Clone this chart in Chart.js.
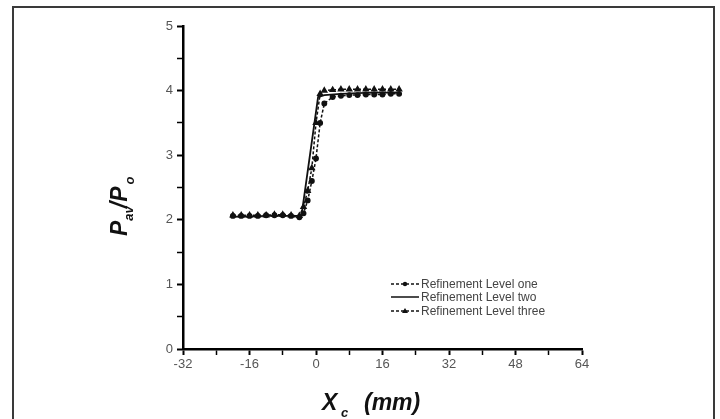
<!DOCTYPE html>
<html>
<head>
<meta charset="utf-8">
<script src="https://cdn.jsdelivr.net/npm/chart.js@4"></script>
<style>
    html, body { margin: 0; padding: 0; background: #fff; }
    #wrap { position: relative; width: 720px; height: 419px; }
    #frame {
        position: absolute; left: 12px; top: 6px; width: 703px; height: 420px;
        border: 2px solid #3a3a3a; box-sizing: border-box; pointer-events: none;
    }
</style>
</head>
<body>
<div id="wrap">
    <canvas id="chart" width="720" height="419"></canvas>
    <div id="frame"></div>
</div>
<script>
// Pressure ratio vs. position for three refinement levels

const xLevelOne = [-20, -18, -16, -14, -12, -10, -8, -6, -4, -3, -2, -1, 0, 1, 2, 4, 6, 8, 10, 12, 14, 16, 18, 20];
const yLevelOne = [2.06, 2.06, 2.06, 2.06, 2.07, 2.07, 2.07, 2.06, 2.04, 2.1, 2.3, 2.6, 2.95, 3.5, 3.8, 3.9, 3.92, 3.93, 3.93, 3.94, 3.94, 3.94, 3.95, 3.95];

const xLevelTwo = [-20, -16, -12, -8, -4, -3.5, 0.5, 2, 6, 10, 14, 20];
const yLevelTwo = [2.05, 2.05, 2.06, 2.06, 2.06, 2.06, 3.9, 3.93, 3.95, 3.96, 3.97, 3.97];

const xLevelThree = [-20, -18, -16, -14, -12, -10, -8, -6, -4, -3, -2, -1, 0, 1, 2, 4, 6, 8, 10, 12, 14, 16, 18, 20];
const yLevelThree = [2.07, 2.07, 2.07, 2.07, 2.07, 2.08, 2.08, 2.07, 2.06, 2.2, 2.45, 2.8, 3.5, 3.95, 4.0, 4.01, 4.02, 4.02, 4.02, 4.02, 4.02, 4.02, 4.02, 4.02];

const xTickValues = [-32, -16, 0, 16, 32, 48, 64];
const yTickValues = [0, 1, 2, 3, 4, 5];

const seriesNames = ['Refinement Level one', 'Refinement Level two', 'Refinement Level three'];

function toPoints(xs, ys) {
    return xs.map((x, i) => ({ x: x, y: ys[i] }));
}

const tickFont = { family: 'Liberation Sans, Arial, sans-serif', size: 13 };

// titles with subscripts and legend drawn by hand
const annotations = {
    id: 'annotations',
    afterDraw(chart) {
        const ctx = chart.ctx;
        const big = 'italic bold 23px Liberation Sans, Arial, sans-serif';
        const small = 'italic bold 13px Liberation Sans, Arial, sans-serif';

        // y title: P_av / P_o
        ctx.save();
        ctx.fillStyle = '#111';
        ctx.translate(127, 236);
        ctx.rotate(-Math.PI / 2);
        ctx.textBaseline = 'alphabetic';
        let x = 0;
        ctx.font = big; ctx.fillText('P', x, 0); x += ctx.measureText('P').width;
        ctx.font = small; ctx.fillText('av', x, 6); x += ctx.measureText('av').width - 2;
        ctx.font = big; ctx.fillText('/', x, 0); x += ctx.measureText('/').width;
        ctx.fillText('P', x, 0); x += ctx.measureText('P').width;
        ctx.font = small; ctx.fillText('o', x + 2, 7);
        ctx.restore();

        // x title: X_c (mm)
        ctx.save();
        ctx.fillStyle = '#111';
        ctx.textBaseline = 'alphabetic';
        ctx.font = big;
        ctx.fillText('X', 322, 410);
        ctx.font = small;
        ctx.fillText('c', 341, 417);
        ctx.font = big;
        ctx.fillText('(mm)', 364, 410);
        ctx.restore();

        // legend
        ctx.save();
        const rows = [284, 297, 311];
        chart.data.datasets.forEach((ds, i) => {
            const y = rows[i];
            ctx.strokeStyle = '#111';
            ctx.lineWidth = 1.5;
            ctx.setLineDash(ds.borderDash || []);
            ctx.beginPath();
            ctx.moveTo(391, y);
            ctx.lineTo(419, y);
            ctx.stroke();
            ctx.setLineDash([]);
            ctx.fillStyle = '#111';
            if (ds.pointStyle === 'circle') {
                ctx.beginPath();
                ctx.arc(405, y, 2.2, 0, Math.PI * 2);
                ctx.fill();
            } else if (ds.pointStyle === 'triangle') {
                ctx.beginPath();
                ctx.moveTo(405, y - 3);
                ctx.lineTo(408, y + 2);
                ctx.lineTo(402, y + 2);
                ctx.closePath();
                ctx.fill();
            }
            ctx.fillStyle = '#444';
            ctx.font = '12px Liberation Sans, Arial, sans-serif';
            ctx.textBaseline = 'middle';
            ctx.fillText(seriesNames[i], 421, y + 1);
        });
        ctx.restore();
    }
};

new Chart(document.getElementById('chart'), {
    type: 'line',
    data: {
        datasets: [
            {
                label: seriesNames[0],
                data: toPoints(xLevelOne, yLevelOne),
                borderColor: '#111',
                backgroundColor: '#111',
                borderWidth: 1.5,
                borderDash: [3, 2],
                pointStyle: 'circle',
                pointRadius: 2.2,
                tension: 0
            },
            {
                label: seriesNames[1],
                data: toPoints(xLevelTwo, yLevelTwo),
                borderColor: '#111',
                borderWidth: 1.8,
                pointRadius: 0,
                tension: 0
            },
            {
                label: seriesNames[2],
                data: toPoints(xLevelThree, yLevelThree),
                borderColor: '#111',
                backgroundColor: '#111',
                borderWidth: 1.5,
                borderDash: [3, 2],
                pointStyle: 'triangle',
                pointRadius: 2.8,
                tension: 0
            }
        ]
    },
    options: {
        responsive: false,
        animation: false,
        layout: { padding: { left: 0, right: 138, top: 26, bottom: 0 } },
        plugins: {
            legend: { display: false },
            tooltip: { enabled: false }
        },
        scales: {
            x: {
                type: 'linear',
                min: -32,
                max: 64,
                afterFit(scale) { scale.height = 70; },
                afterBuildTicks(scale) {
                    const t = [];
                    for (let v = -32; v <= 64; v += 8) t.push({ value: v });
                    scale.ticks = t;
                },
                border: { display: true, color: '#000', width: 2.5 },
                grid: {
                    drawOnChartArea: false,
                    drawTicks: true,
                    tickLength: 6,
                    tickColor: '#000',
                    tickWidth: c => (xTickValues.includes(c.tick.value) ? 2 : 1.5)
                },
                ticks: {
                    color: '#555',
                    font: tickFont,
                    padding: 2,
                    maxRotation: 0,
                    autoSkip: false,
                    callback: v => (xTickValues.includes(v) ? String(v) : '')
                }
            },
            y: {
                type: 'linear',
                min: 0,
                max: 5,
                afterFit(scale) { scale.width = 183; },
                afterBuildTicks(scale) {
                    const t = [];
                    for (let v = 0; v <= 5; v += 0.5) t.push({ value: v });
                    scale.ticks = t;
                },
                border: { display: true, color: '#000', width: 2.5 },
                grid: {
                    drawOnChartArea: false,
                    drawTicks: true,
                    tickLength: 6,
                    tickColor: '#000',
                    tickWidth: c => (yTickValues.includes(c.tick.value) ? 2 : 1.5)
                },
                ticks: {
                    color: '#555',
                    font: tickFont,
                    padding: 4,
                    autoSkip: false,
                    callback: v => (yTickValues.includes(v) ? String(v) : '')
                }
            }
        }
    },
    plugins: [annotations]
});
</script>
</body>
</html>
